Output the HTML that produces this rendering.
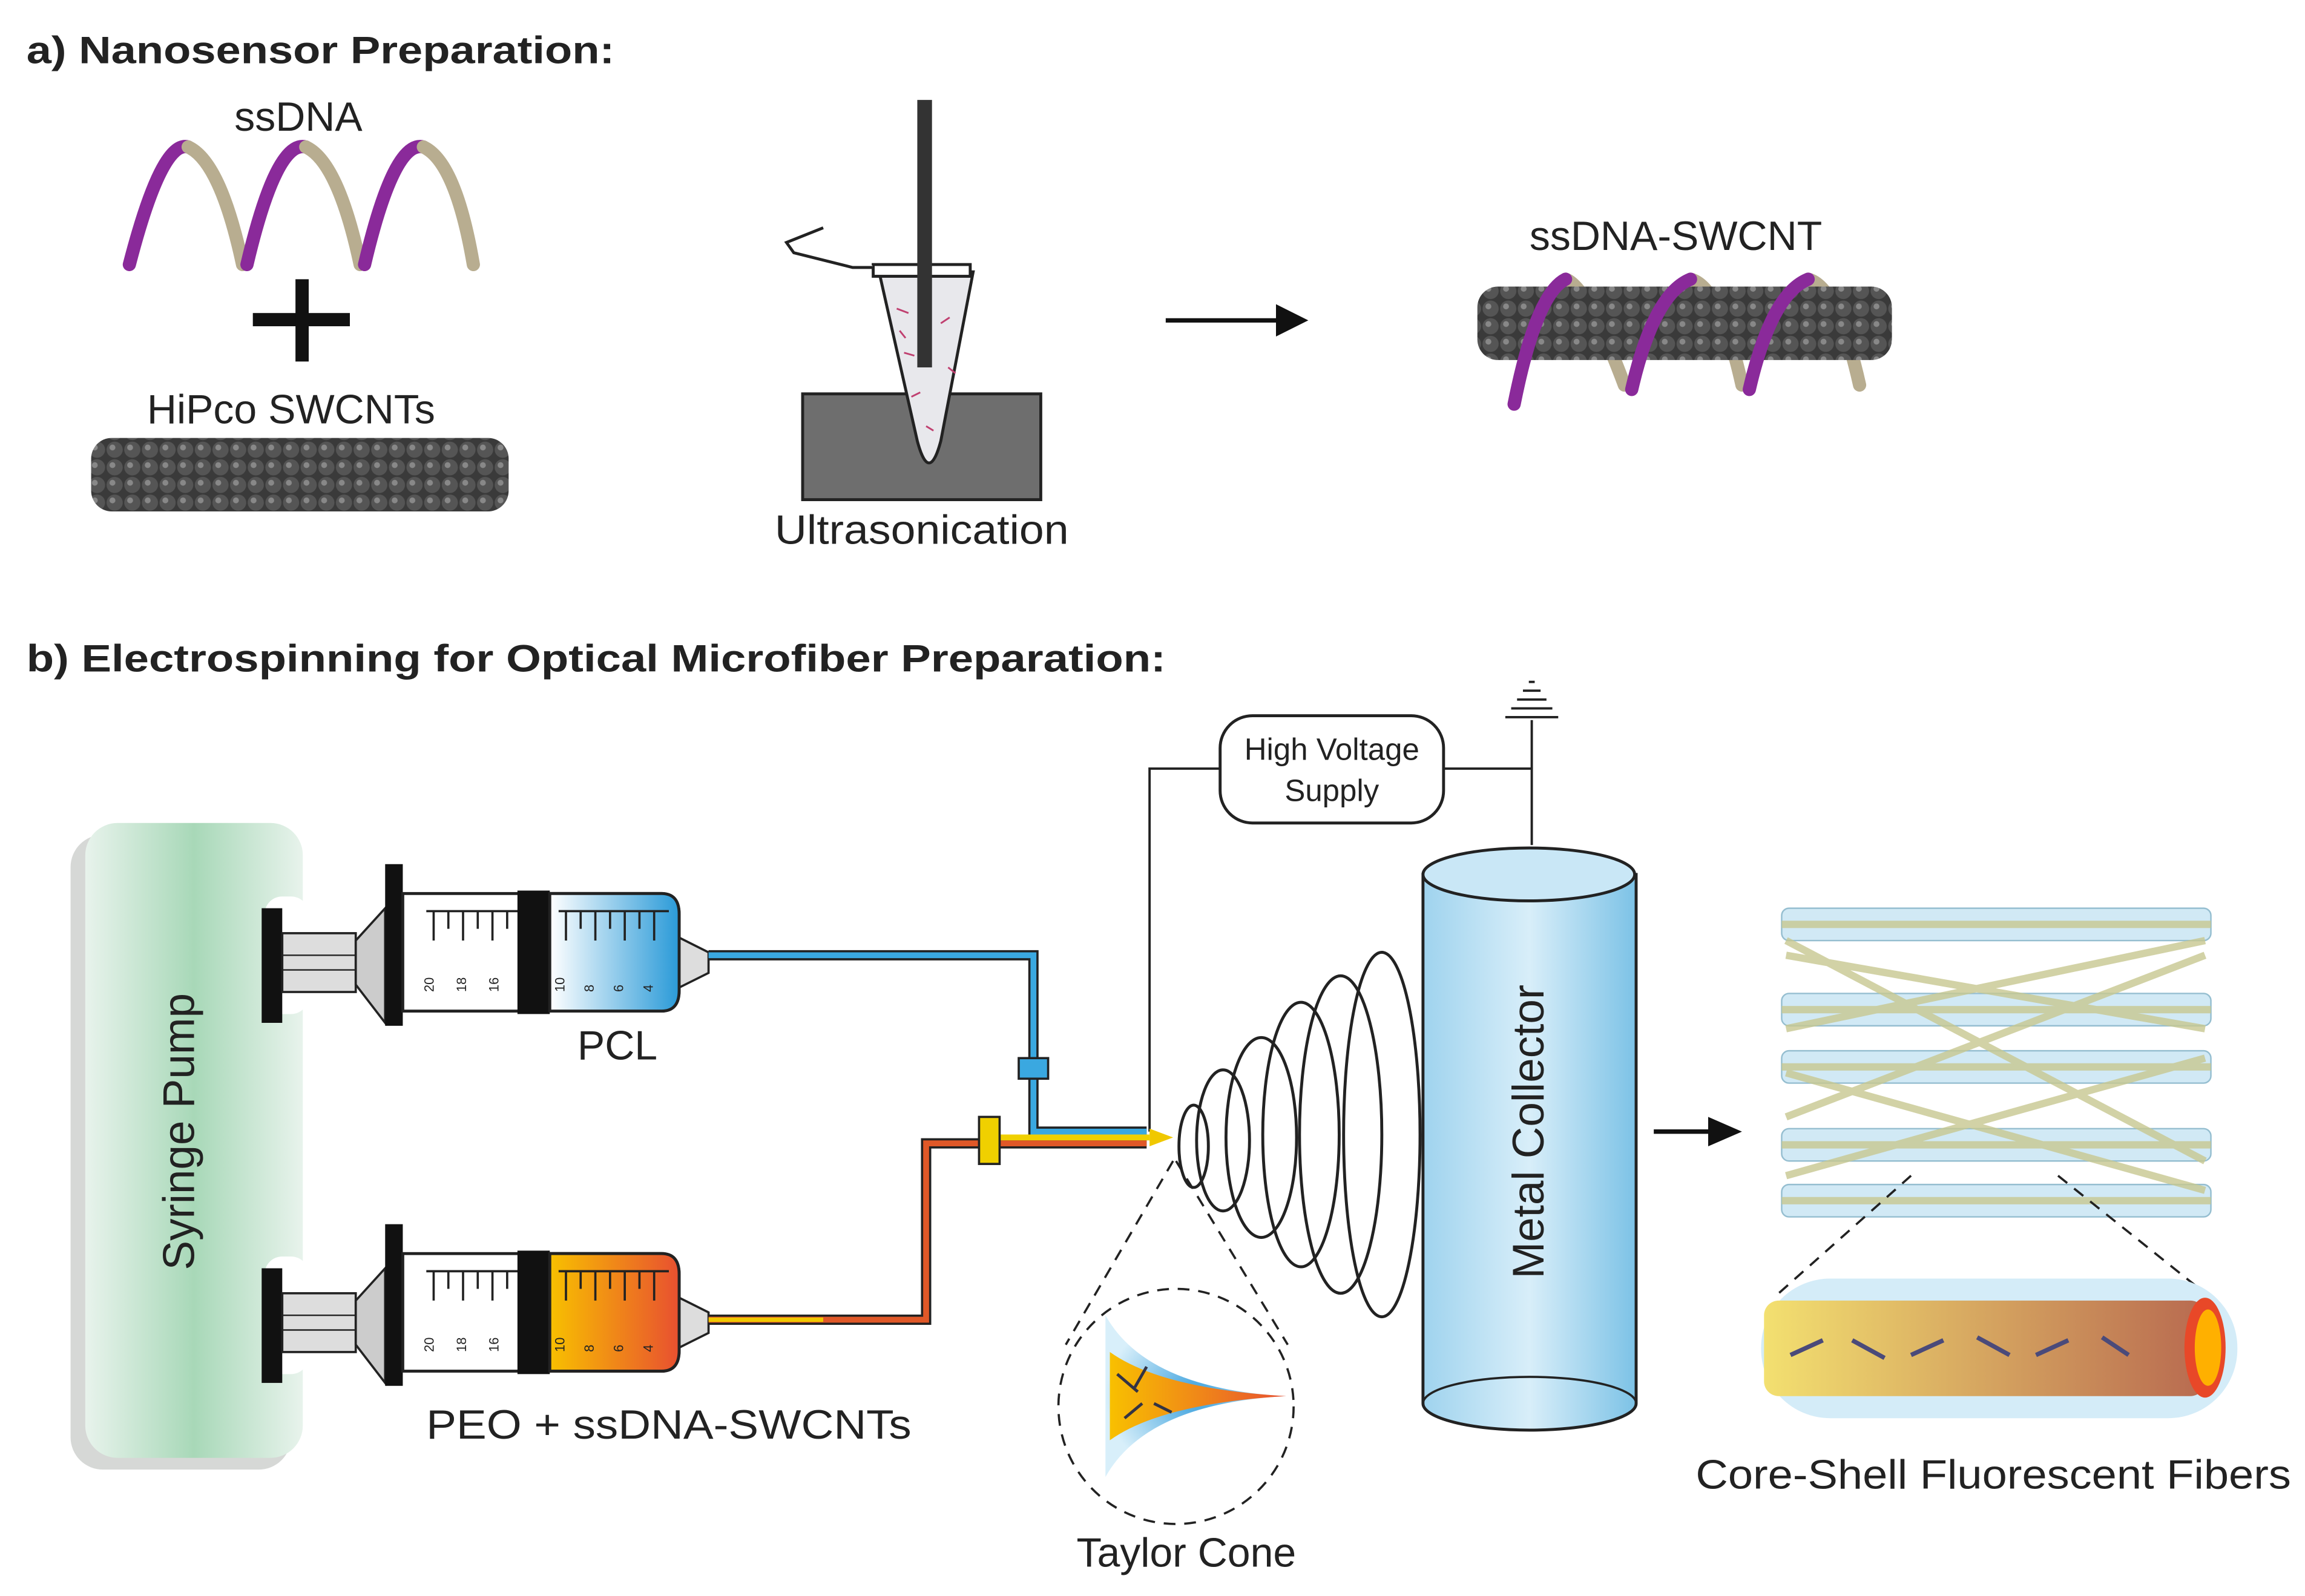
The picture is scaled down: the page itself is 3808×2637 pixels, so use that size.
<!DOCTYPE html>
<html><head><meta charset="utf-8"><style>
html,body{margin:0;padding:0;background:#fff}
svg{display:block}
text{font-family:"Liberation Sans",sans-serif;fill:#222}
</style></head><body>
<svg width="3808" height="2637" viewBox="0 0 1568 1086" preserveAspectRatio="none" xmlns="http://www.w3.org/2000/svg">
<defs>
<pattern id="cnt" x="0" y="0" width="12" height="12" patternUnits="userSpaceOnUse">
<rect width="12" height="12" fill="#3a3a3a"/>
<circle cx="6" cy="6" r="5.5" fill="#555"/><circle cx="4.5" cy="4.5" r="2" fill="#888"/>
</pattern>
<linearGradient id="pump" x1="0" x2="1"><stop offset="0" stop-color="#e8f3ec"/><stop offset="0.5" stop-color="#a8d8b8"/><stop offset="1" stop-color="#e8f3ec"/></linearGradient>
<linearGradient id="blue" x1="0" x2="1"><stop offset="0" stop-color="#fff"/><stop offset="1" stop-color="#2a9ad8"/></linearGradient>
<linearGradient id="orange" x1="0" x2="1"><stop offset="0" stop-color="#f8c000"/><stop offset="1" stop-color="#e85030"/></linearGradient>
<linearGradient id="cyl" x1="0" x2="1"><stop offset="0" stop-color="#9fd3ee"/><stop offset="0.5" stop-color="#d8eef9"/><stop offset="1" stop-color="#7cc2e6"/></linearGradient>
<linearGradient id="core" x1="0" x2="1"><stop offset="0" stop-color="#f3e070"/><stop offset="1" stop-color="#b86a50"/></linearGradient>
<radialGradient id="tc" cx="0.5" cy="0.5" r="0.5"><stop offset="0" stop-color="#3aa0dd"/><stop offset="1" stop-color="#d8effa"/></radialGradient>
</defs>
<rect width="1568" height="1086" fill="#fff"/>

<text x="18" y="43" font-size="26" font-weight="bold" textLength="400" lengthAdjust="spacingAndGlyphs">a) Nanosensor Preparation:</text>
<text x="203" y="89" font-size="28" text-anchor="middle">ssDNA</text>
<g fill="none" stroke-width="9" stroke-linecap="round">
<path d="M88 180 Q110 95 128 100" stroke="#8a2a9a"/><path d="M128 100 Q150 110 165 180" stroke="#b8ad90"/>
<path d="M168 180 Q188 95 208 100" stroke="#8a2a9a"/><path d="M208 100 Q230 110 245 180" stroke="#b8ad90"/>
<path d="M248 180 Q268 95 288 100" stroke="#8a2a9a"/><path d="M288 100 Q310 110 322 180" stroke="#b8ad90"/>
</g>
<rect x="172" y="213" width="66" height="9" fill="#111"/><rect x="201" y="190" width="9" height="56" fill="#111"/>
<text x="198" y="288" font-size="28" text-anchor="middle">HiPco SWCNTs</text>
<rect x="62" y="298" width="284" height="50" rx="14" fill="url(#cnt)"/>

<rect x="546" y="268" width="162" height="72" fill="#6e6e6e" stroke="#222" stroke-width="2"/>
<path d="M598 185 L662 185 L640 300 Q632 330 624 300 Z" fill="#e8e8ec" stroke="#222" stroke-width="2"/>
<rect x="594" y="180" width="66" height="8" fill="#fff" stroke="#222" stroke-width="2"/>
<path d="M560 155 L535 165 L540 172 L580 182 L595 182" fill="#fff" stroke="#222" stroke-width="2"/>
<rect x="624" y="68" width="10" height="182" fill="#333"/>
<g stroke="#c04070" stroke-width="1.2"><path d="M610 210 l8 3 M640 220 l6 -4 M615 240 l7 2 M645 250 l5 4 M620 270 l6 -3 M630 290 l5 3 M612 225 l4 5"/></g>
<text x="627" y="370" font-size="28" text-anchor="middle" textLength="200" lengthAdjust="spacingAndGlyphs">Ultrasonication</text>

<line x1="793" y1="218" x2="872" y2="218" stroke="#111" stroke-width="3"/><path d="M868 207 L890 218 L868 229 Z" fill="#111"/>

<text x="1140" y="170" font-size="28" text-anchor="middle">ssDNA-SWCNT</text>
<g fill="none" stroke-width="9" stroke-linecap="round">
<path d="M1065 190 Q1080 195 1105 262" stroke="#b8ad90"/><path d="M1150 190 Q1170 195 1185 262" stroke="#b8ad90"/><path d="M1230 190 Q1250 195 1265 262" stroke="#b8ad90"/>
</g>
<rect x="1005" y="195" width="282" height="50" rx="14" fill="url(#cnt)"/>
<g fill="none" stroke="#8a2a9a" stroke-width="9" stroke-linecap="round">
<path d="M1030 275 Q1045 200 1065 190"/><path d="M1110 265 Q1125 200 1150 190"/><path d="M1190 265 Q1205 200 1230 190"/>
</g>

<text x="18" y="457" font-size="26" font-weight="bold" textLength="775" lengthAdjust="spacingAndGlyphs">b) Electrospinning for Optical Microfiber Preparation:</text>

<!-- HV -->
<rect x="830" y="487" width="152" height="73" rx="22" fill="#fff" stroke="#222" stroke-width="2"/>
<text x="906" y="517" font-size="21" text-anchor="middle">High Voltage</text>
<text x="906" y="545" font-size="21" text-anchor="middle">Supply</text>
<g stroke="#222" stroke-width="1.6" fill="none">
<path d="M830 523 H782 V770"/><path d="M982 523 H1042 V575"/><path d="M1042 523 V490"/>
<path d="M1024 488 H1060 M1028 482 H1056 M1032 476 H1052 M1036 470 H1048 M1040 464 H1044"/>
</g>

<!-- cylinder -->
<path d="M968 595 V955 A72 18 0 0 0 1113 955 V595 Z" fill="url(#cyl)" stroke="#222" stroke-width="2"/>
<ellipse cx="1040" cy="595" rx="72" ry="18" fill="#c9e7f6" stroke="#222" stroke-width="2"/>
<path d="M968 955 A72 18 0 0 1 1113 955" fill="none" stroke="#222" stroke-width="1.5"/>
<text x="1050" y="770" font-size="30" text-anchor="middle" transform="rotate(-90 1050 770)">Metal Collector</text>

<!-- whip loops -->
<g fill="none" stroke="#222" stroke-width="2">
<ellipse cx="812" cy="780" rx="10" ry="28"/><ellipse cx="832" cy="776" rx="18" ry="48"/><ellipse cx="858" cy="774" rx="24" ry="68"/>
<ellipse cx="885" cy="772" rx="26" ry="90"/><ellipse cx="912" cy="772" rx="28" ry="108"/><ellipse cx="940" cy="772" rx="26" ry="124"/>
</g>

<!-- pump -->
<rect x="48" y="568" width="150" height="432" rx="22" fill="#d6d8d6"/>
<rect x="58" y="560" width="148" height="432" rx="22" fill="url(#pump)"/>
<rect x="180" y="610" width="30" height="80" rx="12" fill="#fff"/>
<rect x="180" y="855" width="30" height="80" rx="12" fill="#fff"/>
<text x="132" y="770" font-size="30" text-anchor="middle" fill="#333" transform="rotate(-90 132 770)">Syringe Pump</text>

<!-- syringes -->
<g id="syr">
<rect x="178" y="618" width="14" height="78" fill="#111"/>
<rect x="192" y="635" width="50" height="40" fill="#ddd" stroke="#222" stroke-width="1.5"/>
<line x1="192" y1="650" x2="242" y2="650" stroke="#222"/><line x1="192" y1="660" x2="242" y2="660" stroke="#222"/>
<path d="M242 640 L262 618 V696 L242 670 Z" fill="#ccc" stroke="#222" stroke-width="1.5"/>
<rect x="262" y="588" width="12" height="110" fill="#111"/>
<rect x="274" y="608" width="98" height="80" fill="#fff" stroke="#222" stroke-width="2"/>
<path d="M290 620 H450 M295 620 V640 M305 620 V632 M315 620 V640 M325 620 V632 M335 620 V640 M345 620 V632 M355 620 V640 M365 620 V632" stroke="#222" stroke-width="1.5"/>
<rect x="352" y="606" width="22" height="84" fill="#111"/>
<path d="M374 608 H450 Q462 608 462 622 V674 Q462 688 450 688 H374 Z" stroke="#222" stroke-width="2"/>
<path d="M462 638 L482 648 V662 L462 672 Z" fill="#ddd" stroke="#222" stroke-width="1.5"/>
</g>
<path d="M374 608 H450 Q462 608 462 622 V674 Q462 688 450 688 H374 Z" fill="url(#blue)" stroke="#222" stroke-width="2"/>
<g stroke="#222" stroke-width="1.5"><path d="M380 620 H455 M385 620 V640 M395 620 V632 M405 620 V640 M415 620 V632 M425 620 V640 M435 620 V632 M445 620 V640"/></g>
<g font-size="9" fill="#222"><text x="295" y="675" transform="rotate(-90 295 675)">20</text><text x="317" y="675" transform="rotate(-90 317 675)">18</text><text x="339" y="675" transform="rotate(-90 339 675)">16</text><text x="384" y="675" transform="rotate(-90 384 675)">10</text><text x="404" y="675" transform="rotate(-90 404 675)">8</text><text x="424" y="675" transform="rotate(-90 424 675)">6</text><text x="444" y="675" transform="rotate(-90 444 675)">4</text></g>
<g transform="translate(0,245)">
<use href="#syr"/>
<path d="M374 608 H450 Q462 608 462 622 V674 Q462 688 450 688 H374 Z" fill="url(#orange)" stroke="#222" stroke-width="2"/>
<g stroke="#222" stroke-width="1.5"><path d="M380 620 H455 M385 620 V640 M395 620 V632 M405 620 V640 M415 620 V632 M425 620 V640 M435 620 V632 M445 620 V640"/></g>
<g font-size="9" fill="#222"><text x="295" y="675" transform="rotate(-90 295 675)">20</text><text x="317" y="675" transform="rotate(-90 317 675)">18</text><text x="339" y="675" transform="rotate(-90 339 675)">16</text><text x="384" y="675" transform="rotate(-90 384 675)">10</text><text x="404" y="675" transform="rotate(-90 404 675)">8</text><text x="424" y="675" transform="rotate(-90 424 675)">6</text><text x="444" y="675" transform="rotate(-90 444 675)">4</text></g>
</g>
<text x="420" y="721" font-size="28" text-anchor="middle">PCL</text>
<text x="455" y="979" font-size="28" text-anchor="middle" textLength="330" lengthAdjust="spacingAndGlyphs">PEO + ssDNA-SWCNTs</text>

<!-- tubes -->
<path d="M482 650 H703 V770 H780" fill="none" stroke="#222" stroke-width="7"/>
<path d="M482 650 H703 V770 H780" fill="none" stroke="#3aa8e0" stroke-width="4"/>
<path d="M482 898 H630 V778 H780" fill="none" stroke="#222" stroke-width="7"/>
<path d="M482 898 H630 V778 H780" fill="none" stroke="#e05828" stroke-width="4"/>
<path d="M482 898 H560" stroke="#f0c800" stroke-width="3"/>
<path d="M670 774 H782" stroke="#f0d000" stroke-width="4"/>
<rect x="693" y="720" width="20" height="14" fill="#3aa8e0" stroke="#222" stroke-width="1.5"/>
<rect x="666" y="760" width="14" height="32" fill="#f0d000" stroke="#222" stroke-width="1.5"/>
<path d="M782 768 L798 774 L782 780 Z" fill="#f0c800"/>

<!-- Taylor cone -->
<g stroke="#222" stroke-width="1.5" stroke-dasharray="8 6" fill="none">
<circle cx="800" cy="957" r="80"/><path d="M798 790 L725 915 M800 790 L876 915"/>
</g>
<path d="M752 895 Q780 945 875 950 Q780 955 752 1005 Z" fill="url(#tc)"/>
<path d="M755 920 Q790 945 875 950 Q790 955 755 980 Z" fill="url(#orange)"/>
<g stroke="#334" stroke-width="2"><path d="M760 935 l14 12 M780 930 l-8 14 M765 965 l12 -10 M785 955 l12 6"/></g>
<text x="807" y="1066" font-size="28" text-anchor="middle">Taylor Cone</text>

<line x1="1125" y1="770" x2="1165" y2="770" stroke="#111" stroke-width="3"/><path d="M1162 760 L1185 770 L1162 780 Z" fill="#111"/>

<!-- fibers -->
<g stroke="#8ab8cc" stroke-width="1" fill="#cde7f4" opacity="0.9">
<rect x="1212" y="618" width="292" height="22" rx="5"/><rect x="1212" y="676" width="292" height="22" rx="5"/>
<rect x="1212" y="715" width="292" height="22" rx="5"/><rect x="1212" y="768" width="292" height="22" rx="5"/><rect x="1212" y="806" width="292" height="22" rx="5"/>
</g>
<g stroke="#c8c890" stroke-width="5" opacity="0.8">
<path d="M1212 629 H1504 M1212 687 H1504 M1212 726 H1504 M1212 779 H1504 M1212 817 H1504"/>
<path d="M1215 650 L1500 700 M1215 700 L1500 640 M1215 760 L1500 650 M1215 800 L1500 720 M1215 640 L1500 790 M1215 730 L1500 810"/>
</g>
<g stroke="#222" stroke-width="1.5" stroke-dasharray="8 6"><path d="M1300 800 L1210 880 M1400 800 L1500 880"/></g>
<rect x="1198" y="870" width="324" height="95" rx="47" fill="#d4ecf8"/>
<rect x="1200" y="885" width="300" height="65" rx="10" fill="url(#core)"/>
<ellipse cx="1500" cy="917" rx="14" ry="34" fill="#e84828"/><ellipse cx="1502" cy="917" rx="9" ry="26" fill="#ffb000"/>
<g stroke="#4a4a7a" stroke-width="3"><path d="M1218 922 l22 -10 M1260 912 l22 12 M1300 922 l22 -10 M1345 910 l22 12 M1385 922 l22 -10 M1430 910 l18 12"/></g>
<text x="1356" y="1013" font-size="28" text-anchor="middle" textLength="405" lengthAdjust="spacingAndGlyphs">Core-Shell Fluorescent Fibers</text>
</svg>
</body></html>
